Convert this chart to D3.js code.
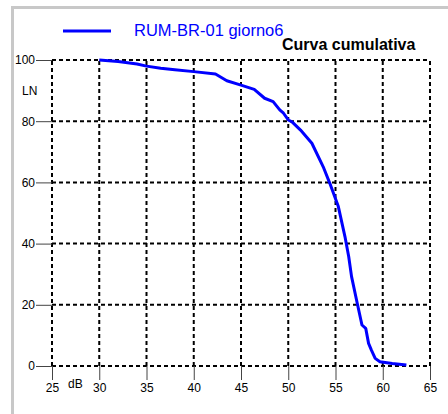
<!DOCTYPE html>
<html><head><meta charset="utf-8">
<script src="https://cdn.jsdelivr.net/npm/d3@7"></script>
<style>body{margin:0;background:#fff}svg{display:block}</style>
</head><body>
<script>
const xTicks = [25,30,35,40,45,50,55,60,65];
const yTicks = [0,20,40,60,80,100];
const dB = [30,32,34,35,36.5,38,40,42.3,43.5,45,46.4,47.5,48.4,49.1,49.5,50.0,50.4,51.3,52.5,53.7,54.4,55.3,56.0,56.4,56.7,57.3,57.8,58.2,58.5,58.8,59.2,59.7,61,62.5];
const LN = [100,99.5,98.7,98,97.3,96.8,96.2,95.4,93.2,91.8,90.4,87.5,86.4,83.7,82.6,80.4,79.8,77.1,72.8,65.1,59.7,52.1,42.3,35.7,29.2,20.5,13.4,12.3,7.4,5.2,2.5,1.4,0.8,0.3];
const seriesName = "RUM-BR-01 giorno6";
const title = "Curva cumulativa";

const W=448,H=414;
const svg=d3.select("body").append("svg").attr("width",W).attr("height",H);
// frame
svg.append("path").attr("d","M12.5,414 V7.5 H448").attr("fill","none").attr("stroke","#c8c8c8").attr("stroke-width",3);

const x=d3.scaleLinear().domain([25,65]).range([52,430]);
const y=d3.scaleLinear().domain([0,100]).range([366,60]);

// grid
const g=svg.append("g");
g.selectAll(".vx").data(xTicks).join("line")
 .attr("x1",d=>x(d)).attr("x2",d=>x(d)).attr("y1",y(0)).attr("y2",y(100))
 .attr("stroke","#000").attr("stroke-width",2).attr("stroke-dasharray","4,3");
g.selectAll(".hy").data(yTicks).join("line")
 .attr("y1",d=>y(d)).attr("y2",d=>y(d)).attr("x1",x(25)).attr("x2",x(65))
 .attr("stroke","#000").attr("stroke-width",2).attr("stroke-dasharray","4,3");

// axes
const xa=svg.append("g").attr("transform",`translate(0,${y(0)})`)
 .call(d3.axisBottom(x).tickValues(xTicks).tickSize(14).tickPadding(3));
const ya=svg.append("g").attr("transform",`translate(${x(25)},0)`)
 .call(d3.axisLeft(y).tickValues(yTicks).tickSize(16).tickPadding(1));
[xa,ya].forEach(a=>{a.select(".domain").remove();
 a.selectAll("line").attr("stroke","#444").attr("stroke-width",1);
 a.selectAll("text").attr("font-family","Liberation Sans, Arial, sans-serif").attr("font-size",12).attr("fill","#000");});

svg.append("text").attr("x",22).attr("y",95).text("LN")
 .attr("font-family","Liberation Sans, Arial, sans-serif").attr("font-size",12);
svg.append("text").attr("x",68).attr("y",388).text("dB")
 .attr("font-family","Liberation Sans, Arial, sans-serif").attr("font-size",12);

// curve
const line=d3.line().x((d,i)=>x(dB[i])).y((d,i)=>y(LN[i]));
svg.append("path").datum(LN).attr("d",line).attr("fill","none")
 .attr("stroke","#0000ff").attr("stroke-width",3).attr("stroke-linejoin","round");

// legend
svg.append("line").attr("x1",63).attr("x2",111).attr("y1",31).attr("y2",31)
 .attr("stroke","#0000ff").attr("stroke-width",3);
svg.append("text").attr("x",134).attr("y",36).text(seriesName).attr("fill","#0000ff")
 .attr("font-family","Liberation Sans, Arial, sans-serif").attr("font-size",16.5);
svg.append("text").attr("x",282).attr("y",49.5).text(title).attr("font-weight","bold")
 .attr("font-family","Liberation Sans, Arial, sans-serif").attr("font-size",16);
</script>
</body></html>
